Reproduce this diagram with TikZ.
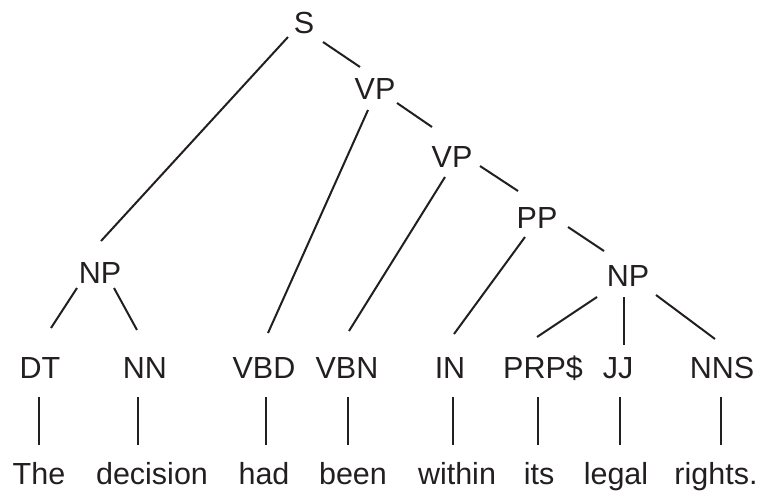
\documentclass[tikz,border=0pt]{standalone}
\usepackage{fontspec}
\setmainfont{Liberation Sans}
\definecolor{ink}{RGB}{35,31,32}
\begin{document}
\begin{tikzpicture}[x=1pt,y=-1pt,
  lbl/.style={anchor=base,inner sep=0pt,text=ink,font=\fontsize{30.5}{36}\selectfont},
  br/.style={draw=ink,line width=2pt}]
\useasboundingbox (0,0) rectangle (769,496);
% phrase nodes
\node[lbl] (S)   at (304,33)  {S};
\node[lbl] (VPa) at (375,99)  {VP};
\node[lbl] (VPb) at (452,167) {VP};
\node[lbl] (PP)  at (537,228) {PP};
\node[lbl] (NPa) at (100,283) {NP};
\node[lbl] (NPb) at (628,286) {NP};
% POS nodes
\node[lbl] (DT)  at (40,378)  {DT};
\node[lbl] (NN)  at (145,378) {NN};
\node[lbl] (VBD) at (264,378) {VBD};
\node[lbl] (VBN) at (347,378) {VBN};
\node[lbl] (IN)  at (450,378) {IN};
\node[lbl] (PRP) at (543,378) {PRP\$};
\node[lbl] (JJ)  at (618,378) {JJ};
\node[lbl] (NNS) at (722,378) {NNS};
% words
\node[lbl] (w1) at (39,484)  {The};
\node[lbl] (w2) at (152,484) {decision};
\node[lbl] (w3) at (264,484) {had};
\node[lbl] (w4) at (353,484) {been};
\node[lbl] (w5) at (457,484) {within};
\node[lbl] (w6) at (539,484) {its};
\node[lbl] (w7) at (616,484) {legal};
\node[lbl] (w8) at (716,484) {rights.};
% branches
\draw[br] ([shift={(-16,4)}]S.base)  -- ([shift={(1,-42)}]NPa.base);
\draw[br] ([shift={(19,9)}]S.base)   -- ([shift={(-15,-32)}]VPa.base);
\draw[br] ([shift={(-7,11)}]VPa.base) -- ([shift={(4,-45)}]VBD.base);
\draw[br] ([shift={(22,4)}]VPa.base) -- ([shift={(-20,-40)}]VPb.base);
\draw[br] ([shift={(-7,10)}]VPb.base) -- ([shift={(2,-47)}]VBN.base);
\draw[br] ([shift={(28,-1)}]VPb.base) -- ([shift={(-19,-37)}]PP.base);
\draw[br] ([shift={(-12,9)}]PP.base) -- ([shift={(4,-44)}]IN.base);
\draw[br] ([shift={(31,-1)}]PP.base) -- ([shift={(-24,-35)}]NPb.base);
\draw[br] ([shift={(-23,5)}]NPa.base) -- ([shift={(11,-50)}]DT.base);
\draw[br] ([shift={(14,5)}]NPa.base) -- ([shift={(-8,-48)}]NN.base);
\draw[br] ([shift={(-31,11)}]NPb.base) -- ([shift={(-6,-41)}]PRP.base);
\draw[br] ([shift={(-4,11)}]NPb.base) -- ([shift={(6,-33)}]JJ.base);
\draw[br] ([shift={(28,9)}]NPb.base) -- ([shift={(-7,-39)}]NNS.base);
% POS to words
\draw[br] ([shift={(-1,19)}]DT.base)  -- ([shift={(0,-39)}]w1.base);
\draw[br] ([shift={(-7,19)}]NN.base)  -- ([shift={(-14,-39)}]w2.base);
\draw[br] ([shift={(2,19)}]VBD.base)  -- ([shift={(2,-39)}]w3.base);
\draw[br] ([shift={(1,19)}]VBN.base)  -- ([shift={(-5,-39)}]w4.base);
\draw[br] ([shift={(3,19)}]IN.base)   -- ([shift={(-4,-39)}]w5.base);
\draw[br] ([shift={(-5,19)}]PRP.base) -- ([shift={(-1,-39)}]w6.base);
\draw[br] ([shift={(2,19)}]JJ.base)   -- ([shift={(4,-39)}]w7.base);
\draw[br] ([shift={(-1,19)}]NNS.base) -- ([shift={(5,-39)}]w8.base);
\end{tikzpicture}
\end{document}
